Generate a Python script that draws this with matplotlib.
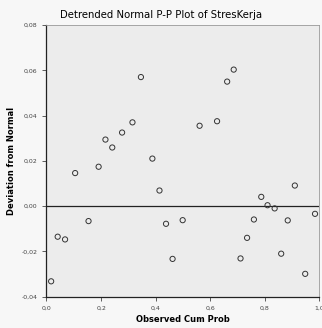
import numpy as np
from matplotlib import pyplot as plt
from matplotlib.ticker import FuncFormatter

# Observed cumulative probability and deviation from normal
obs_cum_prob = [0.346, 0.686, 0.662,
                0.105, 0.191, 0.216, 0.241, 0.277, 0.315, 0.388, 0.414,
                0.561, 0.625, 0.787, 0.810, 0.836, 0.910, 0.984,
                0.154, 0.041, 0.068, 0.017, 0.438, 0.499, 0.462,
                0.760, 0.735, 0.711, 0.884, 0.860, 0.948]
deviation = [0.0570, 0.0603, 0.0550,
             0.0146, 0.0174, 0.0294, 0.0259, 0.0325, 0.0370, 0.0210, 0.0069,
             0.0355, 0.0375, 0.0041, 0.0004, -0.0010, 0.0091, -0.0034,
             -0.0066, -0.0135, -0.0147, -0.0332, -0.0078, -0.0062, -0.0233,
             -0.0059, -0.0140, -0.0231, -0.0063, -0.0210, -0.0299]

x_ticks = [0.0, 0.2, 0.4, 0.6, 0.8, 1.0]
y_ticks = [-0.04, -0.02, 0.00, 0.02, 0.04, 0.06, 0.08]

fig = plt.figure(figsize=(3.22, 3.28), dpi=100)
fig.patch.set_facecolor("#f7f7f7")
ax = fig.add_axes([0.1444, 0.0954, 0.8475, 0.8284])
ax.set_facecolor("#ececec")

ax.scatter(obs_cum_prob, deviation, s=14, facecolors="none",
           edgecolors="#333333", linewidths=0.7, zorder=3)
ax.axhline(0, color="#222222", linewidth=0.9, zorder=2)

ax.set_xlim(0, 1)
ax.set_ylim(-0.04, 0.08)
ax.set_xticks(x_ticks)
ax.set_yticks(y_ticks)

# comma decimal separator as in the original output
ax.xaxis.set_major_formatter(FuncFormatter(lambda v, p: f"{v:.1f}".replace(".", ",")))
ax.yaxis.set_major_formatter(FuncFormatter(lambda v, p: f"{v:.2f}".replace(".", ",")))
ax.tick_params(labelsize=4.5, length=3, width=0.6, colors="#444444")

for side in ["left", "bottom"]:
    ax.spines[side].set_color("#222222")
    ax.spines[side].set_linewidth(0.9)
for side in ["top", "right"]:
    ax.spines[side].set_color("#999999")
    ax.spines[side].set_linewidth(0.6)

ax.set_xlabel("Observed Cum Prob", fontsize=6, fontweight="bold", labelpad=3)
ax.set_ylabel("Deviation from Normal", fontsize=6, fontweight="bold", labelpad=4)
fig.text(0.5, 0.955, "Detrended Normal P-P Plot of StresKerja",
         fontsize=7.3, ha="center", va="center")

fig.savefig("out.png", dpi=100, facecolor=fig.get_facecolor())
